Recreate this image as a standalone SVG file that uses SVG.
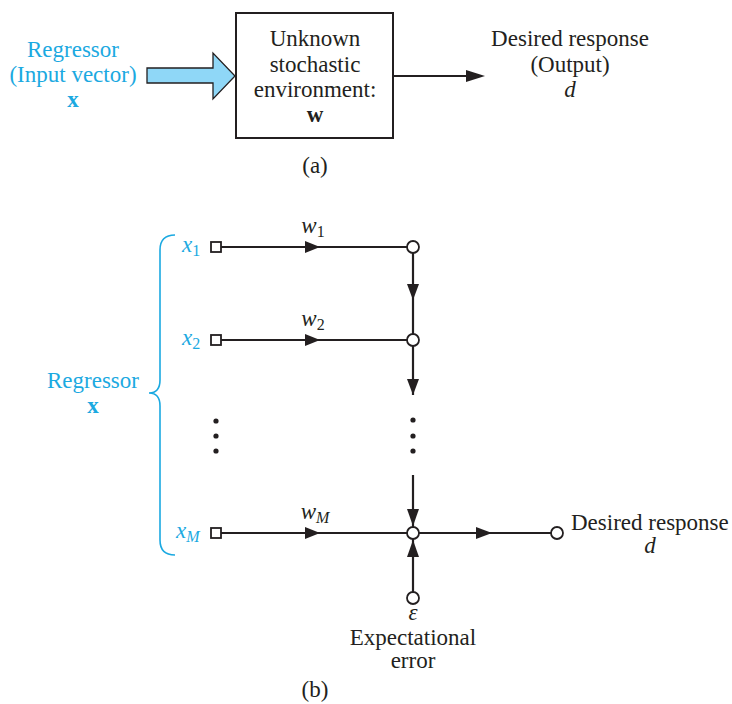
<svg xmlns="http://www.w3.org/2000/svg" width="732" height="704" viewBox="0 0 732 704" font-family="'Liberation Serif', 'Times New Roman', serif">
<defs>
<style>
text{font-family:'Liberation Serif','Times New Roman',serif;font-size:23px;fill:#231f20}
.b{fill:#1ba9e1}
.c{text-anchor:middle}
.i{font-style:italic}
.u{font-style:normal}
.bd{font-weight:bold}
.ln{stroke:#231f20;stroke-width:2.2;fill:none}
.nd{stroke:#231f20;stroke-width:1.8;fill:#fff}
.ah{fill:#231f20}
.dot{fill:#231f20}
</style>
</defs>
<rect width="732" height="704" fill="#fff"/>

<!-- Part (a) -->
<g id="input-a">
<text class="b c" x="73" y="57">Regressor</text>
<text class="b c" x="73" y="82">(Input vector)</text>
<text class="b c bd" x="73" y="107">x</text>
</g>
<g id="big-arrow">
<polygon points="147,68 213,68 213,53 235,76 213,99 213,83 147,83" fill="#8fd7f7" stroke="#231f20" stroke-width="1.3"/>
</g>
<g id="env">
<rect x="236" y="13" width="157" height="125" fill="#fff" stroke="#231f20" stroke-width="2"/>
<text class="c" x="315" y="46">Unknown</text>
<text class="c" x="315" y="72">stochastic</text>
<text class="c" x="315" y="97">environment:</text>
<text class="c bd" x="315" y="122">w</text>
</g>
<g id="output-a">
<text class="c" x="570" y="46">Desired response</text>
<text class="c" x="570" y="72">(Output)</text>
<text class="c i" x="570" y="97">d</text>
</g>
<text class="c" x="315" y="173">(a)</text>

<!-- Part (b) -->
<g id="regressor-b">
<path d="M175,235 Q160,235 160,250 L160,380 Q160,393 149,393 Q160,393 160,406 L160,540 Q160,555 175,555" fill="none" stroke="#1ba9e1" stroke-width="1.6"/>
<text class="b c" x="93" y="388">Regressor</text>
<text class="b c bd" x="93" y="413">x</text>
</g>

<g id="connectors">
<line class="ln" x1="393" y1="76" x2="470" y2="76"/>
<polygon class="ah" points="466,70 485,76 466,82"/>
<line class="ln" x1="221" y1="247" x2="407" y2="247"/>
<line class="ln" x1="221" y1="340" x2="407" y2="340"/>
<line class="ln" x1="221" y1="533" x2="407" y2="533"/>
<line class="ln" x1="413" y1="253" x2="413" y2="334"/>
<line class="ln" x1="413" y1="346" x2="413" y2="395"/>
<line class="ln" x1="413" y1="475" x2="413" y2="527"/>
<line class="ln" x1="413" y1="539" x2="413" y2="592"/>
<line class="ln" x1="419" y1="533" x2="551" y2="533"/>
<polygon class="ah" points="305,241 320,247 305,253"/>
<polygon class="ah" points="305,334 320,340 305,346"/>
<polygon class="ah" points="305,527 320,533 305,539"/>
<polygon class="ah" points="407,284 419,284 413,300"/>
<polygon class="ah" points="407,379 419,379 413,395"/>
<polygon class="ah" points="407,509 419,509 413,526"/>
<polygon class="ah" points="407,557 419,557 413,540"/>
<polygon class="ah" points="476,527 492,533 476,539"/>
</g>

<g id="x1">
<rect class="nd" x="211" y="242" width="10" height="10"/>
<text class="b i" x="182" y="252">x<tspan class="u" font-size="16" dy="4">1</tspan></text>
<text class="i c" x="313" y="233">w<tspan class="u" font-size="16" dy="4">1</tspan></text>
</g>
<g id="x2">
<rect class="nd" x="211" y="335" width="10" height="10"/>
<text class="b i" x="182" y="345">x<tspan class="u" font-size="16" dy="4">2</tspan></text>
<text class="i c" x="313" y="326">w<tspan class="u" font-size="16" dy="4">2</tspan></text>
</g>
<g id="xM">
<rect class="nd" x="211" y="528" width="10" height="10"/>
<text class="b i" x="176" y="538">x<tspan font-size="16" dy="4">M</tspan></text>
<text class="i c" x="315" y="519">w<tspan font-size="16" dy="4">M</tspan></text>
</g>
<g id="dots-left">
<circle class="dot" cx="216" cy="421" r="2.6"/>
<circle class="dot" cx="216" cy="436" r="2.6"/>
<circle class="dot" cx="216" cy="451" r="2.6"/>
</g>
<g id="dots-right">
<circle class="dot" cx="413" cy="420" r="2.6"/>
<circle class="dot" cx="413" cy="436" r="2.6"/>
<circle class="dot" cx="413" cy="451" r="2.6"/>
</g>
<g id="sum1"><circle class="nd" cx="413" cy="247" r="6"/></g>
<g id="sum2"><circle class="nd" cx="413" cy="340" r="6"/></g>
<g id="sumM"><circle class="nd" cx="413" cy="533" r="6"/></g>
<g id="error">
<circle class="nd" cx="413" cy="598" r="6"/>
<text class="c i" x="413" y="620">ε</text>
<text class="c" x="413" y="645">Expectational</text>
<text class="c" x="413" y="668">error</text>
</g>
<g id="output-b">
<circle class="nd" cx="557" cy="533" r="6"/>
<text x="571" y="530">Desired response</text>
<text class="c i" x="650" y="553">d</text>
</g>
<text class="c" x="315" y="697">(b)</text>
</svg>
